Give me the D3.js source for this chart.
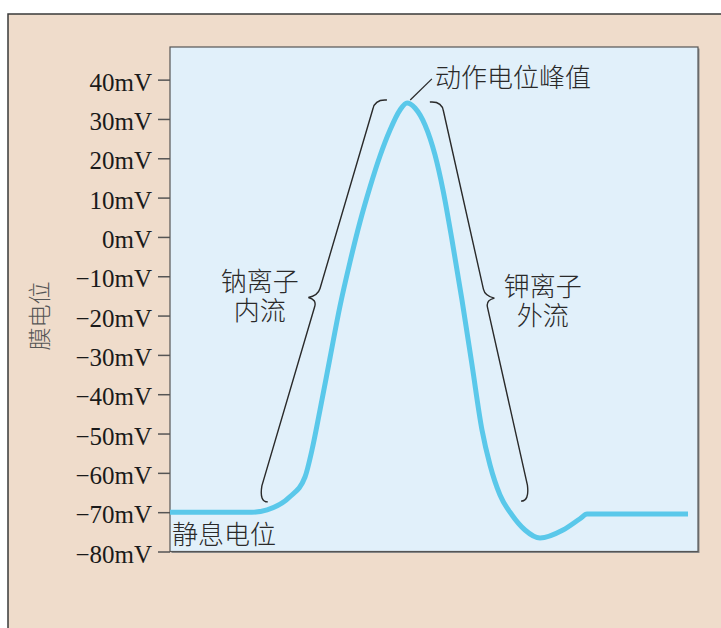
<!DOCTYPE html>
<html><head><meta charset="utf-8">
<script src="https://cdn.jsdelivr.net/npm/d3@7"></script>
<style>body{margin:0;background:#fff}svg{display:block}</style>
</head><body><svg id="c" width="721" height="628"></svg>
<script>
// ---- data ----
const tickValues = [40, 30, 20, 10, 0, -10, -20, -30, -40, -50, -60, -70, -80];
const timeMs = [0, 15.5, 18.4, 22.7, 25.57, 26.89, 28.41, 30.30, 32.20, 34.09, 35.98, 37.88, 39.77, 41.67, 43.56, 44.89,
  46.40, 48.30, 50.19, 51.70, 53.41, 55.30, 57.20, 59.09, 60.61, 62.50, 64.77, 67.23, 70.08, 74.43, 77.65, 78.98, 98.11];
const potentialMv = [-70, -70, -69.4, -66.1, -61.05, -54.19, -44.01, -30.79, -17.56, -6.37, 3.80, 12.70, 20.59, 27.20, 32.29, 34.07,
  32.79, 28.47, 20.84, 11.94, -0.78, -16.04, -32.57, -49.10, -58.0, -65.63, -70.72, -74.53, -76.57, -74.53, -71.66, -70.46, -70.46];
const sodiumBrace = {top: [39.0, 34.3], bottom: [17.2, -65.1]};
const potassiumBrace = {top: [51.3, 33.8], bottom: [67.8, -64.9]};
const yTitle = "膜电位";
const peakLabel = "动作电位峰值";
const restLabel = "静息电位";
const sodiumLabel = ["钠离子", "内流"];
const potassiumLabel = ["钾离子", "外流"];

// ---- layout ----
const svg = d3.select("#c");
const x = d3.scaleLinear().domain([0, 100]).range([170, 698]);
const y = d3.scaleLinear().domain([-80, 48.3]).range([551.5, 47]);

// outer panel
svg.append("rect").attr("x", 8).attr("y", 14).attr("width", 730).attr("height", 640)
  .attr("fill", "#efdccb").attr("stroke", "#3a3a3a").attr("stroke-width", 1.5);

// plot area shadow + box
svg.append("rect").attr("x", x(0) + 1.5).attr("y", y(48.3) + 1.5)
  .attr("width", x(100) - x(0)).attr("height", y(-80) - y(48.3))
  .attr("fill", "#8a8a8a");
svg.append("rect").attr("x", x(0)).attr("y", y(48.3))
  .attr("width", x(100) - x(0)).attr("height", y(-80) - y(48.3))
  .attr("fill", "#e1f0fa").attr("stroke", "#555").attr("stroke-width", 1.2);

// y axis ticks
const fmt = d => (d < 0 ? "\u2212" + Math.abs(d) : d) + "mV";
const axis = d3.axisLeft(y).tickValues(tickValues).tickFormat(fmt).tickSize(12).tickPadding(6);
const g = svg.append("g").attr("transform", `translate(${x(0)},0)`).call(axis);
g.select(".domain").remove();
g.selectAll(".tick line").attr("stroke", "#555").attr("stroke-width", 1.5);
g.selectAll(".tick text").attr("fill", "#1a1a1a").attr("dy", "0.42em")
  .style("font-family", "'Liberation Serif','Times New Roman',serif").style("font-size", "25px");

// y title
svg.append("text").attr("transform", "translate(48,316) rotate(-90)")
  .attr("text-anchor", "middle").attr("fill", "#555")
  .style("font-family", "'Noto Sans CJK SC',sans-serif").style("font-size", "23px").style("font-weight", 300)
  .text(yTitle);

// curve
const pts = timeMs.map((t, i) => [t, potentialMv[i]]);
const line = d3.line().x(d => x(d[0])).y(d => y(d[1])).curve(d3.curveMonotoneX);
svg.append("path").attr("d", line(pts)).attr("fill", "none")
  .attr("stroke", "#5ac8ea").attr("stroke-width", 5).attr("stroke-linejoin", "round").attr("stroke-linecap", "butt");

// braces
function bracePath(b, s) {
  const ax = x(b.top[0]), ay = y(b.top[1]), bx = x(b.bottom[0]), by = y(b.bottom[1]);
  const mx = (ax + bx) / 2, my = (ay + by) / 2;
  const at = yy => ax + (bx - ax) * (yy - ay) / (by - ay) - s * 1;
  const p = d3.path();
  p.moveTo(ax + s * 11, ay - 2);
  p.quadraticCurveTo(at(ay), ay - 3, at(ay + 7), ay + 7);
  p.lineTo(at(my - 9), my - 9);
  p.quadraticCurveTo(at(my - 2), my - 2, mx - s * 10, my);
  p.quadraticCurveTo(at(my + 2), my + 2, at(my + 9), my + 9);
  p.lineTo(at(by - 7), by - 7);
  p.quadraticCurveTo(at(by + 2), by + 9, at(by) + s * 8, by + 9);
  return p.toString();
}
svg.append("path").attr("d", bracePath(sodiumBrace, 1)).attr("fill", "none").attr("stroke", "#2a2a2a").attr("stroke-width", 1.4);
svg.append("path").attr("d", bracePath(potassiumBrace, -1)).attr("fill", "none").attr("stroke", "#2a2a2a").attr("stroke-width", 1.4);

// peak leader
svg.append("line").attr("x1", x(45.5)).attr("y1", y(34.8)).attr("x2", x(49.6)).attr("y2", y(40.2))
  .attr("stroke", "#2a2a2a").attr("stroke-width", 1.3);

const cjk = sel => sel.attr("fill", "#2a2a2a").style("font-family", "'Noto Sans CJK SC',sans-serif").style("font-weight", 300).style("font-size", "26px");
cjk(svg.append("text").attr("x", x(50.2)).attr("y", y(38.1)).text(peakLabel));
cjk(svg.append("text").attr("x", x(0.4)).attr("y", y(-78.1)).text(restLabel));

function twoLine(lines, t, mv1, mv2) {
  const tx = cjk(svg.append("text").attr("text-anchor", "middle"));
  tx.append("tspan").attr("x", x(t)).attr("y", y(mv1)).text(lines[0]);
  tx.append("tspan").attr("x", x(t)).attr("y", y(mv2)).text(lines[1]);
}
twoLine(sodiumLabel, 17.0, -13.75, -21.1);
twoLine(potassiumLabel, 70.6, -15.0, -22.4);
</script>
</body></html>
